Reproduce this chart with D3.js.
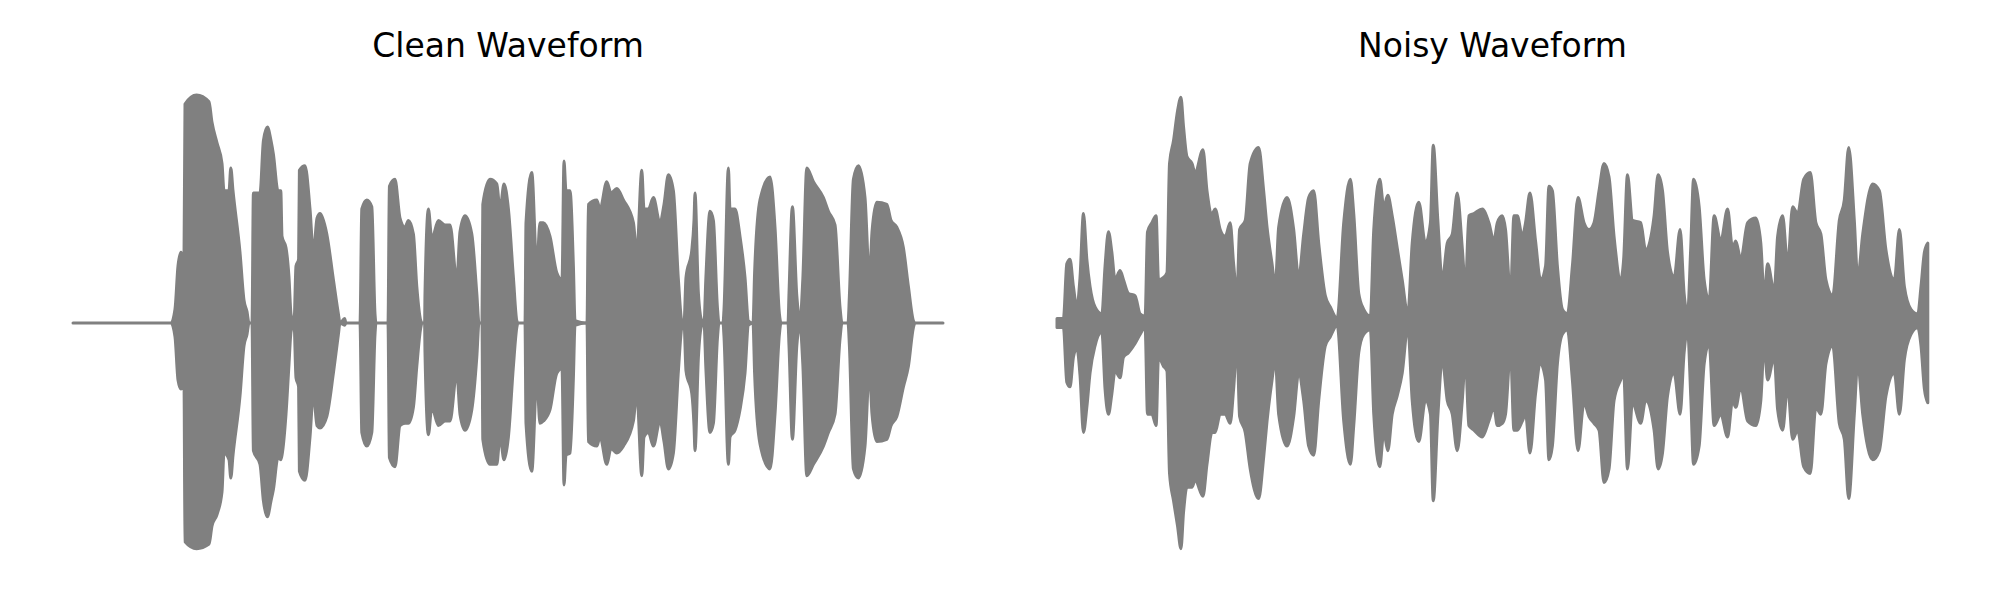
<!DOCTYPE html>
<html>
<head>
<meta charset="utf-8">
<script src="https://cdn.jsdelivr.net/npm/d3@7"></script>
<style>
  html, body { margin: 0; padding: 0; background: #fff; }
  svg { display: block; }
</style>
</head>
<body>
<svg id="chart" width="2000" height="600"></svg>
<script>
// ---- Data (envelope of each waveform; time in seconds, amplitude normalised) ----
const panelTitles = ["Clean Waveform", "Noisy Waveform"];

const cleanTime = [0,0.490,0.510,0.525,0.540,0.555,0.560,0.618,0.680,0.695,0.720,0.745,0.755,0.780,0.789,0.800,0.835,0.855,0.870,0.880,
0.895,0.902,0.935,0.952,0.972,0.990,1.002,1.025,1.039,1.045,1.065,1.080,1.090,1.105,1.115,1.128,1.132,1.160,1.185,1.202,
1.220,1.235,1.269,1.302,1.327,1.335,1.358,1.365,1.435,1.444,1.469,1.494,1.510,1.515,1.575,1.582,1.610,1.635,1.660,1.677,
1.702,1.719,1.739,1.745,1.758,1.760,1.777,1.794,1.827,1.860,1.885,1.919,1.935,1.960,1.994,2.019,2.030,2.045,2.049,2.085,
2.119,2.135,2.155,2.177,2.202,2.219,2.225,2.260,2.265,2.294,2.319,2.335,2.352,2.385,2.419,2.445,2.455,2.465,2.485,2.502,
2.510,2.570,2.577,2.619,2.635,2.669,2.690,2.719,2.752,2.802,2.819,2.844,2.855,2.877,2.902,2.935,2.955,2.977,3.002,3.027,
3.044,3.055,3.065,3.094,3.105,3.110,3.127,3.144,3.155,3.164,3.185,3.202,3.222,3.230,3.250,3.255,3.277,3.285,3.310,3.335,
3.360,3.377,3.400,3.408,3.435,3.485,3.510,3.532,3.540,3.575,3.580,3.597,3.619,3.635,3.649,3.669,3.702,3.752,3.777,3.810,
3.835,3.845,3.875,3.882,3.902,3.927,3.960,3.982,3.995,4.019,4.069,4.090,4.119,4.152,4.177,4.202,4.210,4.350];
const cleanUpper = [0,0,0.06,0.25,0.31,0.28,0.96,1.00,0.97,0.88,0.79,0.70,0.58,0.58,0.68,0.58,0.31,0.10,0.05,0,
0,0.57,0.57,0.80,0.86,0.80,0.74,0.58,0.58,0.38,0.33,0.20,0.04,0,0.25,0.28,0.67,0.69,0.50,0.31,
0.46,0.48,0.39,0.19,0.04,0,0.02,0,0,0.50,0.54,0.51,0.04,0,0,0.60,0.63,0.46,0.42,0.45,
0.39,0.16,0.01,0,0,0.13,0.50,0.37,0.45,0.43,0.43,0.19,0.40,0.47,0.39,0.13,0,0,0.52,0.63,
0.61,0.50,0.61,0.50,0.20,0.01,0,0,0.44,0.66,0.25,0.44,0.44,0.38,0.22,0.19,0.71,0.58,0.58,0.25,
0.01,0,0.52,0.54,0.50,0.62,0.57,0.59,0.54,0.44,0.31,0.67,0.50,0.50,0.55,0.44,0.52,0.65,0.58,0.19,
0.01,0,0.20,0.32,0.45,0.57,0.13,0.01,0,0.19,0.49,0.45,0.07,0,0,0.06,0.68,0.50,0.50,0.38,
0.20,0.01,0,0.22,0.54,0.64,0.42,0.04,0,0,0.13,0.51,0.12,0.01,0.19,0.68,0.62,0.55,0.49,0.43,
0.07,0,0,0.12,0.63,0.69,0.55,0.20,0.40,0.53,0.52,0.45,0.42,0.33,0.16,0.01,0,0];
const cleanLower = [0,0,-0.06,-0.25,-0.29,-0.27,-0.96,-0.99,-0.97,-0.89,-0.84,-0.74,-0.57,-0.60,-0.68,-0.58,-0.32,-0.10,-0.05,0,
0,-0.56,-0.62,-0.78,-0.85,-0.78,-0.73,-0.59,-0.60,-0.58,-0.40,-0.18,-0.04,0,-0.24,-0.28,-0.65,-0.69,-0.50,-0.31,
-0.45,-0.46,-0.41,-0.22,-0.05,0,-0.01,0,0,-0.48,-0.54,-0.48,-0.05,0,0,-0.59,-0.63,-0.45,-0.44,-0.44,
-0.37,-0.19,-0.02,0,0,-0.13,-0.49,-0.37,-0.45,-0.43,-0.43,-0.22,-0.40,-0.47,-0.38,-0.15,0,0,-0.51,-0.62,
-0.62,-0.50,-0.60,-0.50,-0.19,-0.02,0,0,-0.44,-0.65,-0.25,-0.44,-0.43,-0.38,-0.22,-0.20,-0.71,-0.58,-0.57,-0.24,
-0.01,0,-0.52,-0.54,-0.50,-0.62,-0.55,-0.57,-0.54,-0.43,-0.31,-0.67,-0.50,-0.48,-0.54,-0.43,-0.52,-0.64,-0.57,-0.21,
-0.02,0,-0.21,-0.31,-0.45,-0.56,-0.15,-0.01,0,-0.19,-0.48,-0.44,-0.07,0,0,-0.06,-0.62,-0.50,-0.47,-0.38,
-0.22,-0.01,0,-0.22,-0.53,-0.64,-0.40,-0.05,0,0,-0.10,-0.51,-0.10,-0.01,-0.18,-0.67,-0.62,-0.54,-0.48,-0.40,
-0.07,0,0,-0.10,-0.64,-0.68,-0.54,-0.21,-0.40,-0.52,-0.51,-0.45,-0.41,-0.28,-0.19,-0.02,0,0];

const noisyTime = [0,0.032,0.049,0.065,0.082,0.099,0.115,0.132,0.149,0.165,0.190,0.224,0.240,0.257,0.274,0.290,0.315,0.332,0.357,0.390,
0.415,0.440,0.452,0.474,0.495,0.507,0.532,0.549,0.562,0.582,0.602,0.619,0.632,0.649,0.674,0.690,0.729,0.749,0.774,0.790,
0.815,0.840,0.865,0.882,0.899,0.912,0.940,0.965,1.007,1.032,1.049,1.074,1.090,1.107,1.149,1.182,1.207,1.232,1.257,1.282,
1.307,1.340,1.365,1.399,1.432,1.465,1.482,1.507,1.532,1.565,1.582,1.612,1.632,1.652,1.674,1.699,1.724,1.752,1.774,1.807,
1.840,1.865,1.879,1.902,1.924,1.949,1.974,1.999,2.024,2.040,2.057,2.082,2.124,2.157,2.182,2.199,2.224,2.240,2.265,2.282,
2.299,2.324,2.340,2.362,2.390,2.415,2.440,2.457,2.474,2.499,2.524,2.549,2.574,2.602,2.632,2.657,2.682,2.707,2.732,2.757,
2.782,2.815,2.830,2.849,2.874,2.915,2.940,2.982,3.002,3.024,3.049,3.082,3.112,3.132,3.149,3.165,3.179,3.207,3.232,3.257,
3.282,3.315,3.349,3.374,3.390,3.415,3.449,3.490,3.515,3.532,3.549,3.582,3.599,3.624,3.649,3.674,3.699,3.729,3.762,3.790,
3.815,3.840,3.874,3.907,3.932,3.954,3.982,3.999,4.024,4.074,4.107,4.140,4.182,4.207,4.232,4.265,4.299,4.315,4.332,4.349];
const noisyUpper = [0.02,0.02,0.26,0.28,0.16,0.07,0.20,0.48,0.28,0.16,0.07,0.04,0.25,0.40,0.31,0.19,0.23,0.19,0.13,0.12,
0.04,0.03,0.40,0.44,0.47,0.19,0.20,0.22,0.70,0.80,0.93,0.99,0.86,0.73,0.70,0.66,0.76,0.58,0.48,0.50,
0.41,0.38,0.44,0.26,0.13,0.41,0.45,0.70,0.77,0.58,0.42,0.26,0.16,0.42,0.55,0.41,0.20,0.39,0.55,0.58,
0.35,0.12,0.07,0.02,0.44,0.63,0.48,0.13,0.06,0.03,0.41,0.63,0.51,0.56,0.47,0.33,0.19,0.04,0.35,0.53,
0.35,0.44,0.78,0.45,0.19,0.35,0.39,0.57,0.33,0.16,0.47,0.48,0.50,0.44,0.36,0.44,0.47,0.41,0.13,0.47,
0.47,0.38,0.44,0.57,0.36,0.19,0.25,0.60,0.58,0.25,0.06,0.04,0.25,0.55,0.44,0.41,0.44,0.58,0.70,0.64,
0.38,0.19,0.28,0.65,0.45,0.44,0.32,0.47,0.65,0.58,0.31,0.20,0.41,0.13,0.04,0.33,0.63,0.51,0.19,0.10,
0.47,0.36,0.50,0.33,0.36,0.28,0.44,0.46,0.35,0.12,0.26,0.14,0.38,0.47,0.26,0.51,0.48,0.63,0.66,0.44,
0.39,0.19,0.12,0.45,0.54,0.77,0.45,0.20,0.39,0.61,0.58,0.32,0.19,0.41,0.16,0.06,0.04,0.16,0.31,0.35];
const noisyLower = [-0.02,-0.02,-0.26,-0.28,-0.15,-0.11,-0.23,-0.48,-0.37,-0.22,-0.10,-0.04,-0.29,-0.40,-0.31,-0.21,-0.24,-0.15,-0.13,-0.09,
-0.05,-0.02,-0.40,-0.40,-0.45,-0.15,-0.19,-0.21,-0.66,-0.78,-0.89,-0.99,-0.83,-0.72,-0.72,-0.69,-0.76,-0.62,-0.48,-0.48,
-0.40,-0.40,-0.44,-0.29,-0.10,-0.41,-0.48,-0.64,-0.77,-0.59,-0.43,-0.25,-0.16,-0.40,-0.54,-0.41,-0.22,-0.34,-0.54,-0.58,
-0.34,-0.10,-0.06,-0.01,-0.43,-0.62,-0.45,-0.13,-0.05,-0.03,-0.40,-0.63,-0.48,-0.56,-0.40,-0.32,-0.22,-0.02,-0.34,-0.52,
-0.34,-0.40,-0.78,-0.41,-0.16,-0.34,-0.40,-0.56,-0.34,-0.16,-0.45,-0.47,-0.50,-0.43,-0.37,-0.45,-0.44,-0.40,-0.13,-0.47,
-0.47,-0.43,-0.40,-0.57,-0.31,-0.18,-0.25,-0.60,-0.54,-0.18,-0.05,-0.03,-0.25,-0.56,-0.35,-0.41,-0.44,-0.47,-0.70,-0.64,
-0.34,-0.25,-0.22,-0.64,-0.35,-0.44,-0.34,-0.47,-0.64,-0.57,-0.32,-0.22,-0.40,-0.13,-0.03,-0.32,-0.62,-0.54,-0.18,-0.09,
-0.45,-0.40,-0.50,-0.34,-0.37,-0.28,-0.43,-0.45,-0.34,-0.10,-0.25,-0.15,-0.38,-0.47,-0.28,-0.51,-0.47,-0.63,-0.66,-0.37,
-0.40,-0.18,-0.10,-0.44,-0.51,-0.77,-0.40,-0.18,-0.40,-0.60,-0.56,-0.32,-0.22,-0.40,-0.16,-0.05,-0.02,-0.10,-0.29,-0.35];

// ---- Drawing ----
const svg = d3.select("#chart");
const color = "#808080";

const panels = [
  { title: panelTitles[0], t: cleanTime, up: cleanUpper, lo: cleanLower, range: [73, 943] },
  { title: panelTitles[1], t: noisyTime, up: noisyUpper, lo: noisyLower, range: [1057, 1928] }
];

const y = d3.scaleLinear().domain([-1, 1]).range([551, 95]);

panels.forEach(p => {
  const x = d3.scaleLinear().domain([0, 4.35]).range(p.range);
  const rows = p.t.map((t, i) => ({ t, up: p.up[i], lo: p.lo[i] }));
  const area = d3.area()
    .x(d => x(d.t))
    .y0(d => y(d.lo))
    .y1(d => y(d.up))
    .curve(d3.curveMonotoneX);

  svg.append("path")
    .datum(rows)
    .attr("d", area)
    .attr("fill", color)
    .attr("stroke", color)
    .attr("stroke-width", 3)
    .attr("stroke-linejoin", "round")
    .attr("stroke-linecap", "round");

  svg.append("text")
    .attr("x", (p.range[0] + p.range[1]) / 2)
    .attr("y", 57)
    .attr("text-anchor", "middle")
    .attr("font-family", "DejaVu Sans, sans-serif")
    .attr("font-size", 33)
    .attr("fill", "#000")
    .text(p.title);
});
</script>
</body>
</html>
